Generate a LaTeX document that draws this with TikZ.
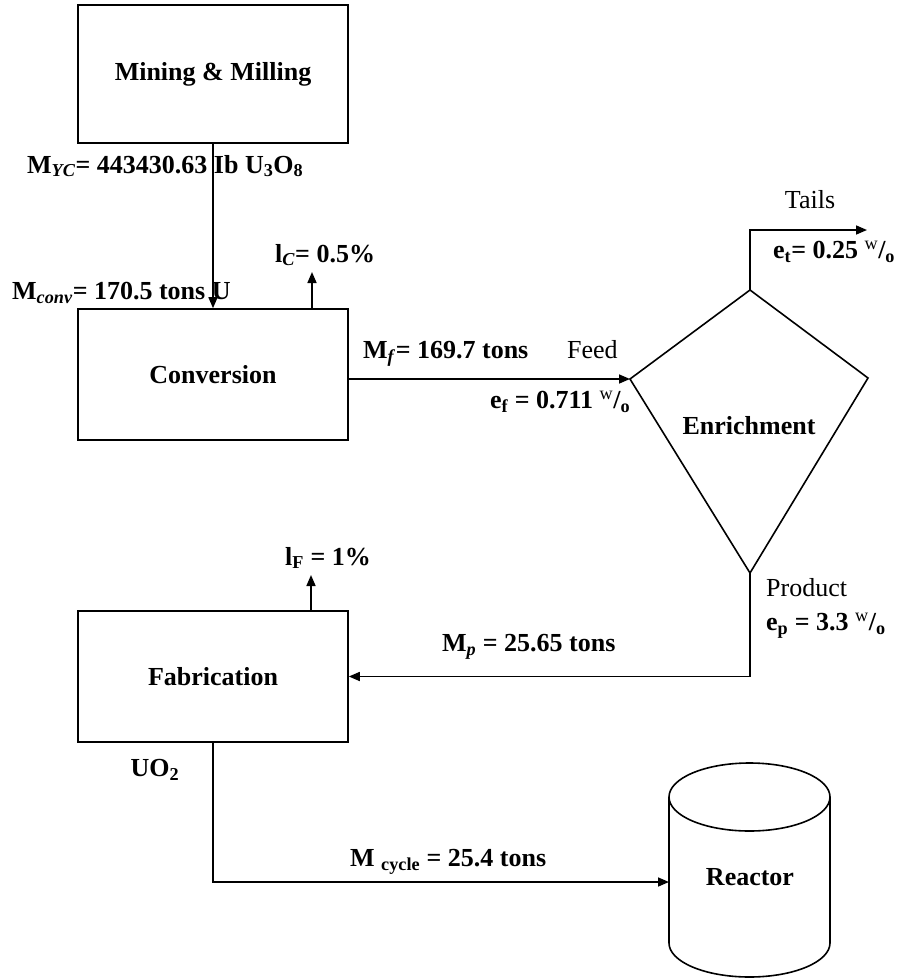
\documentclass[tikz,border=0pt]{standalone}
\usepackage{fontspec}
\setmainfont{Liberation Serif}
\usetikzlibrary{arrows.meta}
\begin{document}
\begin{tikzpicture}[x=1pt,y=-1pt,
  box/.style={draw, line width=1.6pt, minimum width=270pt, minimum height=131pt, inner sep=0pt, font=\fontsize{26}{30}\selectfont\bfseries},
  lbl/.style={font=\fontsize{26}{30}\selectfont\bfseries, inner sep=0pt, anchor=west},
  plain/.style={font=\fontsize{26}{30}\selectfont, inner sep=0pt},
  arr/.style={line width=1.6pt, -{Triangle[length=11pt,width=9pt]}},
  ln/.style={line width=1.6pt}]
\useasboundingbox (0,0) rectangle (908,978);
% process boxes
\node[box, minimum height=138pt] (mine) at (213,74) {Mining \& Milling};
\node[box] (conv) at (213,374.5) {Conversion};
\node[box] (fab) at (213,676.5) {Fabrication};
% enrichment kite
\coordinate (eL) at (630,379);
\coordinate (eT) at (750,290);
\coordinate (eR) at (868,378);
\coordinate (eB) at (750,573);
\draw[ln] (eL) -- (eT) -- (eR) -- (eB) -- cycle;
\node[font=\fontsize{26}{30}\selectfont\bfseries] (enr) at (749,426) {Enrichment};
% reactor cylinder
\draw[ln] (669,797) arc[start angle=180, end angle=-180, x radius=80.5, y radius=34];
\draw[ln] (669,797) -- (669,943) arc[start angle=180, end angle=0, x radius=80.5, y radius=34] -- (830,797);
\node[font=\fontsize{26}{30}\selectfont\bfseries] (reactor) at (750,877) {Reactor};
% connectors
\coordinate (lCtop) at (312,272);
\coordinate (tailsend) at (867,230);
\coordinate (lFtop) at (311,575);
\coordinate (rin) at (669,882);
\draw[arr] (mine.south) -- (conv.north);
\draw[arr] (conv.north -| lCtop) -- (lCtop);
\draw[arr] (conv.east |- eL) -- (eL);
\draw[arr] (eT) |- (tailsend);
\draw[arr] (eB) |- (fab.east);
\draw[arr] (fab.north -| lFtop) -- (lFtop);
\draw[arr] (fab.south) |- (rin);
% labels
\node[lbl] (myc) at (27,166) {M\textsubscript{\textit{YC}}= 443430.63 Ib U\textsubscript{3}O\textsubscript{8}};
\node[lbl] (mconv) at (12,293) {M\textsubscript{\textit{conv}}= 170.5 tons U};
\node[lbl] (lc) at (275,255) {l\textsubscript{\textit{C}}= 0.5\%};
\node[lbl] (mf) at (363,354) {M\textsubscript{\textit{f}}= 169.7 tons};
\node[plain, anchor=west] (feed) at (567,350) {Feed};
\node[lbl] (ef) at (490,402) {e\textsubscript{f} = 0.711 \textsuperscript{\mdseries w}/\textsubscript{o}};
\node[plain] (tails) at (810,200) {Tails};
\node[lbl] (et) at (773,252) {e\textsubscript{t}= 0.25 \textsuperscript{\mdseries w}/\textsubscript{o}};
\node[plain, anchor=west] (prod) at (766,588) {Product};
\node[lbl] (ep) at (766,626) {e\textsubscript{p} = 3.3 \textsuperscript{\mdseries w}/\textsubscript{o}};
\node[lbl] (mp) at (442,647) {M\textsubscript{\textit{p}} = 25.65 tons};
\node[lbl] (lf) at (285,558) {l\textsubscript{F} = 1\%};
\node[lbl, anchor=center] (uo2) at (155,770) {UO\textsubscript{2}};
\node[lbl] (mcyc) at (350,862) {M \textsubscript{cycle} = 25.4 tons};
\end{tikzpicture}
\end{document}
